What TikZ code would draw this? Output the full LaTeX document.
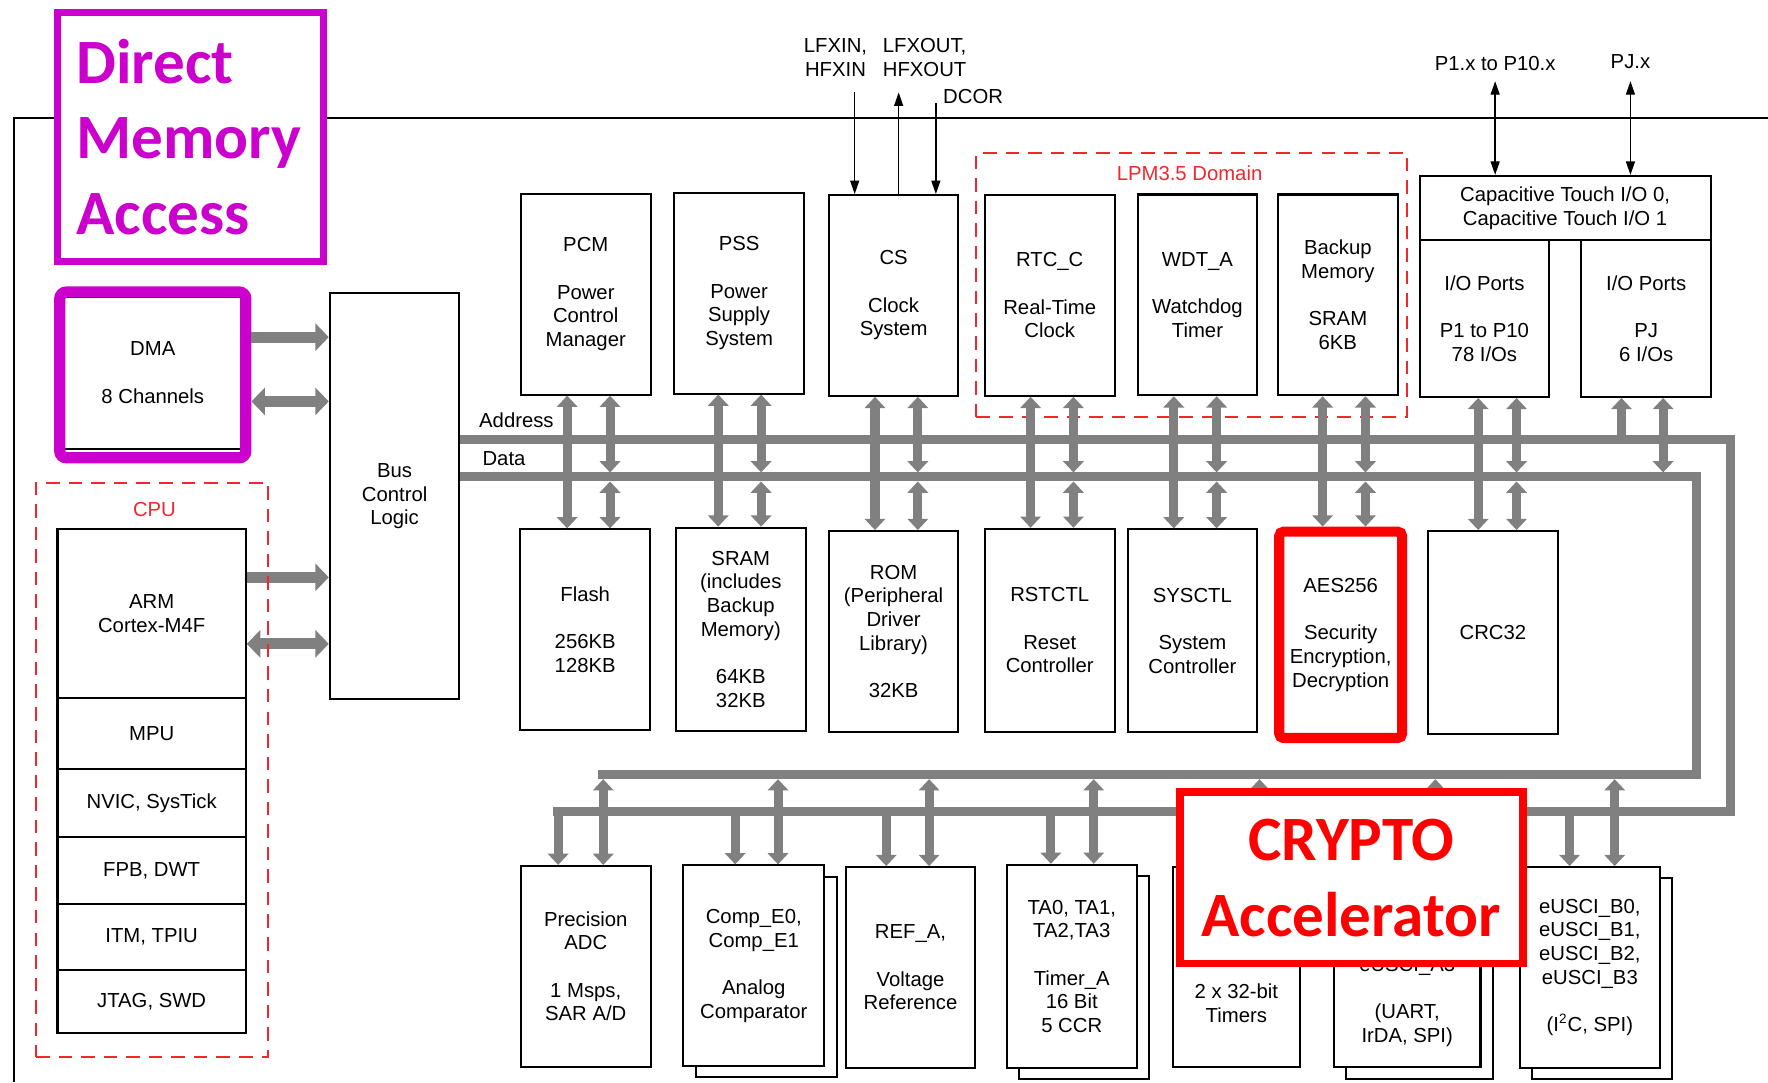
\documentclass[tikz,border=0pt]{standalone}
\usepackage{fontspec}
\setmainfont{Liberation Sans}
\newfontfamily\calibri{Carlito}
\usetikzlibrary{arrows.meta,shadows}

\definecolor{gris}{RGB}{128,128,128}
\definecolor{rojo}{RGB}{255,0,0}
\definecolor{rojoclaro}{RGB}{240,40,45}
\definecolor{morado}{RGB}{204,0,204}
\newcommand{\boxfont}{\fontsize{9}{10.5}\selectfont}

\begin{document}
\begin{tikzpicture}[x=0.5pt, y=-0.5pt,
        bloque/.style={draw=black, line width=0.9pt, fill=white, align=center, inner sep=1pt, minimum width=57.5pt, minimum height=89pt, font=\boxfont},
        capa/.style={bloque, minimum width=83.5pt},
        sombra/.style={copy shadow={shadow xshift=5.5pt, shadow yshift=-5pt}},
        dominio/.style={draw=rojoclaro, line width=0.9pt, dash pattern=on 6pt off 4pt},
        rotulo/.style={font=\boxfont, align=center, inner sep=0pt},
        rotulorojo/.style={rotulo, text=rojoclaro},
        barra/.style={draw=gris, line width=4pt},
        flecha/.style={draw=gris, line width=4pt, >={Triangle[width=9pt,length=5pt]}},
        flechagruesa/.style={draw=gris, line width=5pt, >={Triangle[width=12pt,length=6pt]}},
        senal/.style={draw=black, line width=0.6pt, >={Triangle[width=4pt,length=6pt]}},
        resalte/.style={draw=morado, line width=5pt, rounded corners=3pt},
        grande/.style={font=\calibri\bfseries\fontsize{28}{33.5}\selectfont},
        titulo/.style={grande, draw=morado, line width=3pt, fill=white, text=morado, align=left, text width=101pt, inner xsep=8.5pt, inner ysep=0pt, minimum height=110.5pt},
        cripto/.style={grande, draw=rojo, line width=3.5pt, fill=white, text=rojo, align=center, minimum width=152pt, minimum height=76pt}
    ]
    \useasboundingbox (0,0) rectangle (1568,960);

    % --- MARCO DEL CHIP ---
    \draw[line width=0.9pt] (12,960) -- (12,105) -- (1568,105);
    \node[titulo] (dmat) at (169,121.5) {Direct\\Memory\\Access};

    % --- DMA Y BUS ---
    \node[bloque, minimum width=78.5pt, minimum height=67.5pt] (dma) at (135.5,330.5) {DMA\\[10.5pt]8 Channels};
    \node[resalte, minimum width=82.5pt, minimum height=73.5pt] (dmahl) at (135.5,332.5) {};
    \node[bloque, minimum height=180pt] (bus) at (350,440) {Bus\\Control\\Logic};

    % --- CPU ---
    \node[rotulorojo] (cput) at (137,452) {CPU};
    \node[capa, minimum height=75pt] (arm) at (134.5,544) {ARM\\Cortex-M4F};
    \node[capa, minimum height=31.5pt] (mpu) at (134.5,650.5) {MPU};
    \node[capa, minimum height=30pt] (nvic) at (134.5,712) {NVIC, SysTick};
    \node[capa, minimum height=30pt] (fpb) at (134.5,772) {FPB, DWT};
    \node[capa, minimum height=29pt] (itm) at (134.5,831) {ITM, TPIU};
    \node[capa, minimum height=28pt] (jtag) at (134.5,888) {JTAG, SWD};

    % --- FILA SUPERIOR ---
    \node[dominio, minimum width=191pt, minimum height=117pt] (lpm) at (1057,253) {};
    \node[rotulorojo] (lpmt) at (1055,154) {LPM3.5 Domain};
    \node[bloque] (pcm) at (519.5,261) {PCM\\[10.5pt]Power\\Control\\Manager};
    \node[bloque] (pss) at (655.5,260) {PSS\\[10.5pt]Power\\Supply\\System};
    \node[bloque] (cs) at (792.5,262) {CS\\[10.5pt]Clock\\System};
    \node[bloque] (rtc) at (931,262) {RTC\_C\\[10.5pt]Real-Time\\Clock};
    \node[bloque, minimum width=53pt] (wdt) at (1062,261.5) {WDT\_A\\[10.5pt]Watchdog\\Timer};
    \node[bloque, minimum width=53.5pt] (bkp) at (1186.5,261.5) {Backup\\Memory\\[10.5pt]SRAM\\6KB};
    \node[bloque, minimum width=129pt, minimum height=28.5pt] (capt) at (1388,184.5) {Capacitive Touch I/O 0,\\Capacitive Touch I/O 1};
    \node[bloque, minimum height=69.5pt] (iop) at (1316.5,282.5) {I/O Ports\\[10.5pt]P1 to P10\\78 I/Os};
    \node[bloque, minimum height=69.5pt] (iopj) at (1460,282.5) {I/O Ports\\[10.5pt]PJ\\6 I/Os};

    % --- SENALES EXTERNAS ---
    \node[rotulo] (lfxin) at (741,51) {LFXIN,\\HFXIN};
    \node[rotulo] (lfxout) at (820,51) {LFXOUT,\\HFXOUT};
    \node[rotulo] (dcor) at (863,86) {DCOR};
    \node[rotulo] (p1x) at (1326,56) {P1.x to P10.x};
    \node[rotulo] (pjx) at (1446,55) {PJ.x};
    \coordinate (lfxinP) at (758,82);
    \coordinate (lfxoutP) at (797,82);
    \coordinate (dcorP) at (830,91);
    \coordinate (p1P) at (1326,72);
    \coordinate (pjP) at (1446,72);
    \draw[senal, ->] (lfxinP) -- (cs.north -| lfxinP);
    \draw[senal, ->] (cs.north -| lfxoutP) -- (lfxoutP);
    \draw[senal, ->] (dcorP) -- (cs.north -| dcorP);
    \draw[senal, <->] (p1P) -- (capt.north -| p1P);
    \draw[senal, <->] (pjP) -- (capt.north -| pjP);

    % --- FILA MEDIA ---
    \node[bloque] (flash) at (519,558.5) {Flash\\[10.5pt]256KB\\128KB};
    \node[bloque, minimum height=90pt] (sram) at (657,558) {SRAM\\(includes\\Backup\\Memory)\\[10.5pt]64KB\\32KB};
    \node[bloque] (rom) at (792.5,560) {ROM\\(Peripheral\\Driver\\Library)\\[10.5pt]32KB};
    \node[bloque, minimum height=90pt] (rst) at (931,559) {RSTCTL\\[10.5pt]Reset\\Controller};
    \node[bloque, minimum height=90pt] (sys) at (1057.5,559.5) {SYSCTL\\[10.5pt]System\\Controller};
    \node[bloque, draw=rojo, line width=4.5pt, rounded corners=2pt, minimum width=54.5pt, minimum height=91.5pt] (aes) at (1189,563) {AES256\\[10.5pt]Security\\Encryption,\\Decryption};
    \node[bloque, minimum height=90pt] (crc) at (1324,561) {CRC32};

    % --- FILA INFERIOR ---
    \node[bloque] (adc) at (519.5,857) {Precision\\ADC\\[10.5pt]1 Msps,\\SAR A/D};
    \node[bloque, sombra, minimum width=62.5pt] (comp) at (668.5,856.5) {Comp\_E0,\\Comp\_E1\\[10.5pt]Analog\\Comparator};
    \node[bloque] (ref) at (807.5,858) {REF\_A,\\[10.5pt]Voltage\\Reference};
    \node[bloque, sombra, minimum height=90pt] (tima) at (950.5,857) {TA0, TA1,\\TA2,TA3\\[10.5pt]Timer\_A\\16 Bit\\5 CCR};
    \node[bloque, minimum width=56.5pt] (t32) at (1096.5,857.5) {};
    \node[rotulo] (t32t) at (1096.5,889.5) {2 x 32-bit\\Timers};
    \node[bloque, sombra, minimum width=65pt] (uart) at (1248,857.5) {};
    \node[rotulo] (uartt) at (1248,888.5) {eUSCI\_A3\\[10.5pt](UART,\\IrDA, SPI)};
    \node[bloque, sombra, minimum width=62pt] (usb) at (1410,858) {eUSCI\_B0,\\eUSCI\_B1,\\eUSCI\_B2,\\eUSCI\_B3\\[10.5pt](I\textsuperscript{2}C, SPI)};

    % --- BUSES ---
    \coordinate (adrE) at (1535,390);
    \coordinate (adrS) at (1535,720);
    \coordinate (adrW) at (490,720);
    \coordinate (datE) at (1505,423);
    \coordinate (datS) at (1505,687);
    \coordinate (datW) at (530,687);
    \draw[barra] (bus.east |- adrE) -- (adrE) -- (adrS) -- (adrW);
    \draw[barra] (bus.east |- datE) -- (datE) -- (datS) -- (datW);
    \node[rotulo] (adrt) at (458,373) {Address};
    \node[rotulo] (datt) at (447,407) {Data};

    \draw[flechagruesa, ->] ([yshift=16.75pt]dmahl.east) -- ([yshift=16.75pt]dmahl.east -| bus.west);
    \draw[flechagruesa, <->] ([yshift=-11.75pt]dmahl.east) -- ([yshift=-11.75pt]dmahl.east -| bus.west);
    \draw[flechagruesa, ->] ([yshift=16pt]arm.east) -- ([yshift=16pt]arm.east -| bus.west);
    \draw[flechagruesa, <->] ([yshift=-13.5pt]arm.east) -- ([yshift=-13.5pt]arm.east -| bus.west);

    % tomas de la parte superior
    \coordinate (a1) at (503,390);  \coordinate (d1) at (541,423);
    \coordinate (a2) at (637,390);  \coordinate (d2) at (675,423);
    \coordinate (a3) at (776,390);  \coordinate (d3) at (814,423);
    \coordinate (a4) at (914,390);  \coordinate (d4) at (952,423);
    \coordinate (a5) at (1041,390); \coordinate (d5) at (1079,423);
    \coordinate (a6) at (1173,390); \coordinate (d6) at (1211,423);
    \coordinate (a7) at (1311,390); \coordinate (d7) at (1345,423);
    \coordinate (aj) at (1438,390); \coordinate (dj) at (1475,423);

    \draw[flecha, <->] (pcm.south -| a1) -- (flash.north -| a1);
    \draw[flecha, <->] (pcm.south -| d1) -- ([yshift=2pt]d1);
    \draw[flecha, <->] ([yshift=-2pt]d1) -- (flash.north -| d1);
    \draw[flecha, <->] (pss.south -| a2) -- (sram.north -| a2);
    \draw[flecha, <->] (pss.south -| d2) -- ([yshift=2pt]d2);
    \draw[flecha, <->] ([yshift=-2pt]d2) -- (sram.north -| d2);
    \draw[flecha, <->] (cs.south -| a3) -- (rom.north -| a3);
    \draw[flecha, <->] (cs.south -| d3) -- ([yshift=2pt]d3);
    \draw[flecha, <->] ([yshift=-2pt]d3) -- (rom.north -| d3);
    \draw[flecha, <->] (rtc.south -| a4) -- (rst.north -| a4);
    \draw[flecha, <->] (rtc.south -| d4) -- ([yshift=2pt]d4);
    \draw[flecha, <->] ([yshift=-2pt]d4) -- (rst.north -| d4);
    \draw[flecha, <->] (wdt.south -| a5) -- (sys.north -| a5);
    \draw[flecha, <->] (wdt.south -| d5) -- ([yshift=2pt]d5);
    \draw[flecha, <->] ([yshift=-2pt]d5) -- (sys.north -| d5);
    \draw[flecha, <->] (bkp.south -| a6) -- (aes.north -| a6);
    \draw[flecha, <->] (bkp.south -| d6) -- ([yshift=2pt]d6);
    \draw[flecha, <->] ([yshift=-2pt]d6) -- (aes.north -| d6);
    \draw[flecha, <->] (iop.south -| a7) -- (crc.north -| a7);
    \draw[flecha, <->] (iop.south -| d7) -- ([yshift=2pt]d7);
    \draw[flecha, <->] ([yshift=-2pt]d7) -- (crc.north -| d7);
    \draw[flecha, ->] (aj) -- (iopj.south -| aj);
    \draw[flecha, <->] (iopj.south -| dj) -- ([yshift=2pt]dj);

    % tomas de la parte inferior
    \coordinate (a8) at (495,720);  \coordinate (d8) at (535,687);
    \coordinate (a9) at (652,720);  \coordinate (d9) at (690,687);
    \coordinate (a10) at (786,720); \coordinate (d10) at (824,687);
    \coordinate (a11) at (932,720); \coordinate (d11) at (970,687);
    \coordinate (a12) at (1080,720); \coordinate (d12) at (1117,687);
    \coordinate (a13) at (1235,720); \coordinate (d13) at (1273,687);
    \coordinate (a14) at (1392,720); \coordinate (d14) at (1432,687);

    \draw[flecha, ->] (a8) -- (adc.north -| a8);
    \draw[flecha, <->] ([yshift=-2pt]d8) -- (adc.north -| d8);
    \draw[flecha, ->] (a9) -- (comp.north -| a9);
    \draw[flecha, <->] ([yshift=-2pt]d9) -- (comp.north -| d9);
    \draw[flecha, ->] (a10) -- (ref.north -| a10);
    \draw[flecha, <->] ([yshift=-2pt]d10) -- (ref.north -| d10);
    \draw[flecha, ->] (a11) -- (tima.north -| a11);
    \draw[flecha, <->] ([yshift=-2pt]d11) -- (tima.north -| d11);
    \draw[flecha, ->] (a12) -- (t32.north -| a12);
    \draw[flecha, <->] ([yshift=-2pt]d12) -- (t32.north -| d12);
    \draw[flecha, ->] (a13) -- (uart.north -| a13);
    \draw[flecha, <->] ([yshift=-2pt]d13) -- (uart.north -| d13);
    \draw[flecha, ->] (a14) -- (usb.north -| a14);
    \draw[flecha, <->] ([yshift=-2pt]d14) -- (usb.north -| d14);

    % --- RESALTADOS ---
    \node[dominio, minimum width=103pt, minimum height=254.5pt] (cpud) at (135,682.5) {};
    \node[cripto] (crypto) at (1198.5,778.5) {CRYPTO\\Accelerator};
\end{tikzpicture}
\end{document}
